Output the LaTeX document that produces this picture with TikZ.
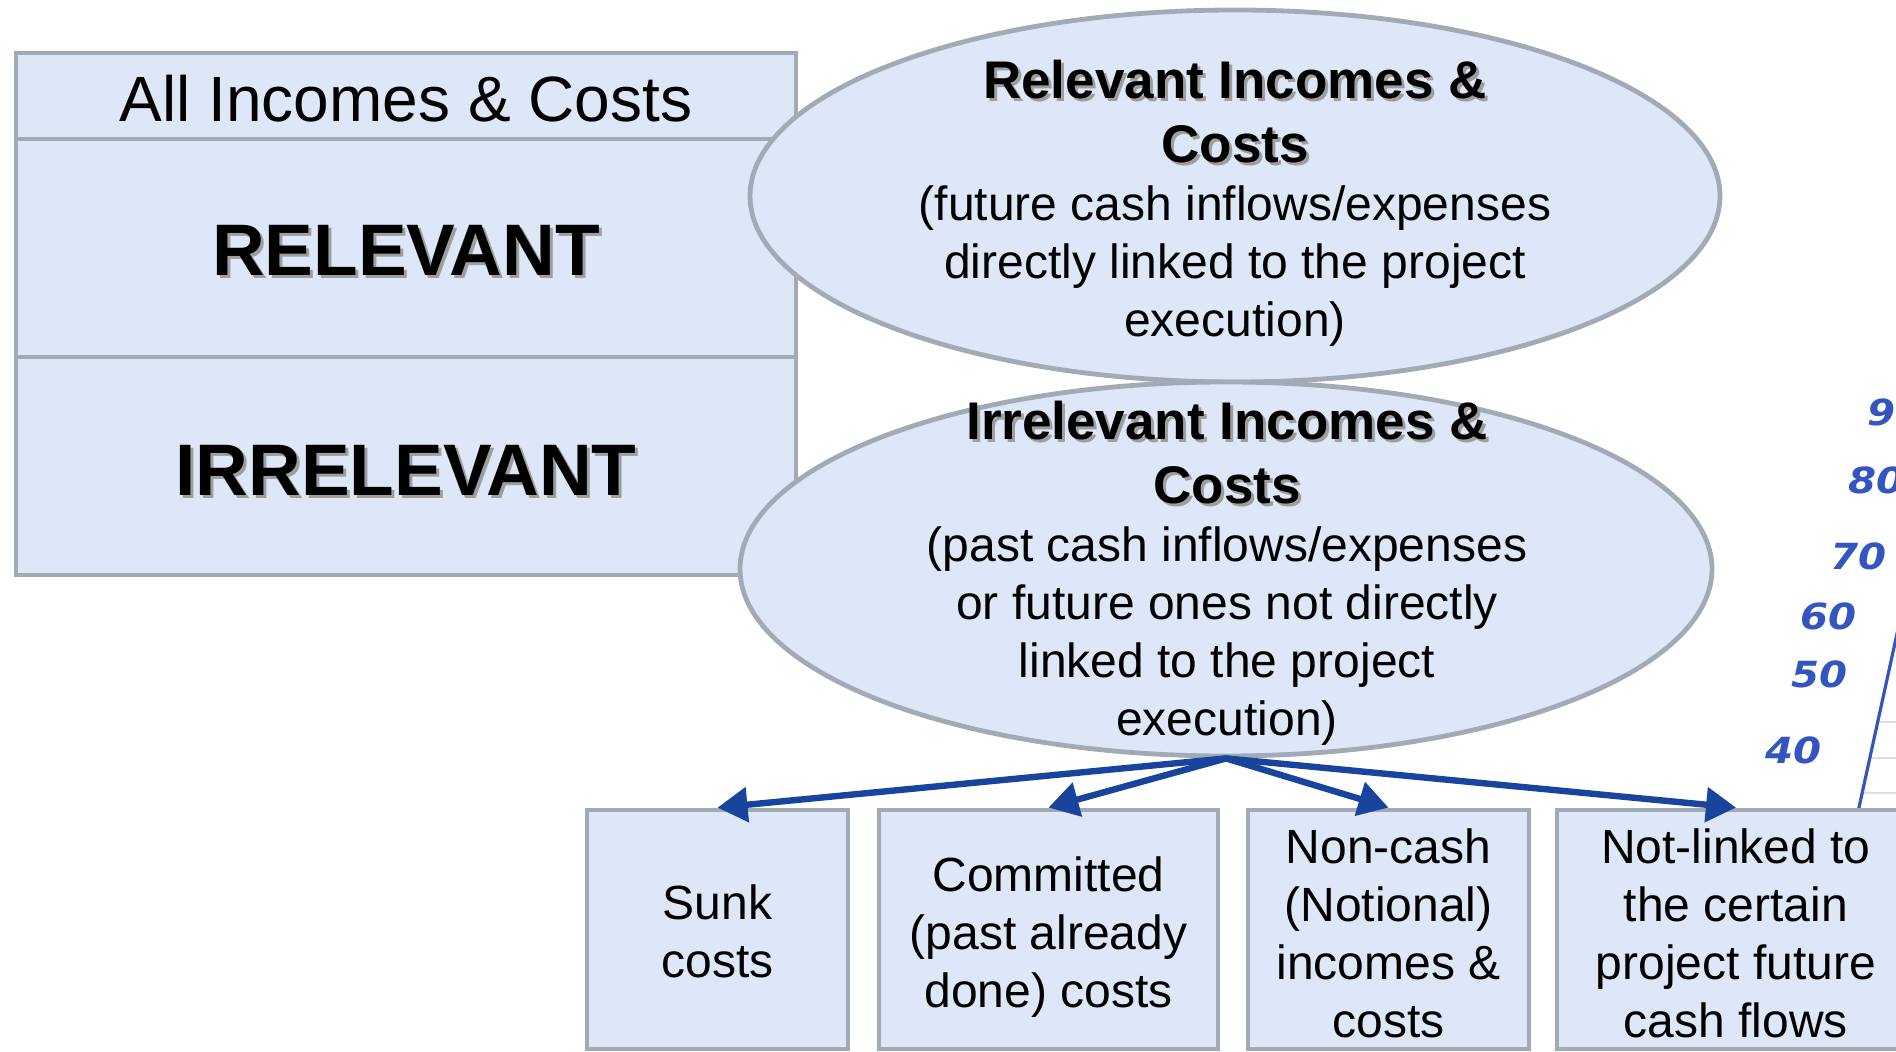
\documentclass[tikz,border=0pt]{standalone}
\usepackage{fontspec}
\setmainfont{Liberation Sans}
\newfontfamily\handfamily{DejaVu Sans}
\usetikzlibrary{shapes.geometric,arrows.meta}

\definecolor{panelfill}{RGB}{221,231,248}
\definecolor{panelline}{RGB}{162,170,182}
\definecolor{arrowblue}{RGB}{24,68,158}
\definecolor{inkblue}{RGB}{52,84,192}
\definecolor{gridgrey}{RGB}{222,222,226}

% bold text with a soft grey drop shadow
\newcommand\shtext[1]{\leavevmode\rlap{\kern1.5pt\raisebox{-1.5pt}{\textcolor{black!38}{#1}}}#1}
% lower content inside its panel without changing the panel
\newcommand\nudge[2]{\raisebox{-#1}[\height][\depth]{#2}}
% centred stack of lines at the body line pitch
\newcommand\lines[1]{\begin{tabular}{@{}c@{}}#1\end{tabular}}
\newcommand\titlefont{\bfseries\fontsize{26.5}{31.5}\selectfont}
\newcommand\bodyfont{\fontsize{24}{29}\selectfont}

\begin{document}
\begin{tikzpicture}[x=0.5pt,y=-0.5pt,
  panel/.style={draw=panelline, fill=panelfill, line width=2.4pt, inner sep=0pt},
  bigword/.style={font=\bfseries\fontsize{36.5}{44}\selectfont},
  blurb/.style={align=center, inner sep=0pt, font=\bodyfont},
  leaf/.style={panel, minimum height=119.5pt, font=\bodyfont},
  conn/.style={draw=arrowblue, line width=3.2pt, -{Triangle[length=15pt,width=17pt]}},
  hand/.style={font=\handfamily\bfseries\itshape\fontsize{18}{18}\selectfont,
               text=inkblue, inner sep=0pt, anchor=west, xscale=1.12}]
\useasboundingbox (0,0) rectangle (1896,1052);
\clip (0,0) rectangle (1896,1052);

% handwritten scale at the right edge
\draw[gridgrey, line width=0.6pt] (1877,722) -- (1900,722);
\draw[gridgrey, line width=0.6pt] (1869,758) -- (1900,758);
\draw[gridgrey, line width=0.6pt] (1862,793) -- (1900,793);
\draw[inkblue, line width=1.6pt] (1858,812) -- (1900,620);
\node[hand] (n90) at (1867,412) {9};
\node[hand] (n80) at (1848,480) {80};
\node[hand] (n70) at (1830,556) {70};
\node[hand] (n60) at (1800,616) {60};
\node[hand] (n50) at (1791,674) {50};
\node[hand] (n40) at (1765,750) {40};

% stacked classification panel
\node[panel, minimum width=390pt, minimum height=43pt,
      font=\fontsize{32}{38}\selectfont] (all) at (406,96) {\nudge{1.2pt}{All Incomes \& Costs}};
\node[panel, bigword, minimum width=390pt, minimum height=109pt] (relbox) at (406,248) {\nudge{2pt}{\shtext{RELEVANT}}};
\node[panel, bigword, minimum width=390pt, minimum height=109pt] (irrbox) at (406,466) {\nudge{3pt}{\shtext{IRRELEVANT}}};

% the two explanatory ellipses
\node[panel, ellipse, minimum width=485pt, minimum height=186pt] (rel) at (1235,196) {};
\node[panel, ellipse, minimum width=486pt, minimum height=187pt] (irr) at (1226,569) {};

\node[blurb] (reltext) at (1235,203.5) {%
  {\titlefont\shtext{Relevant Incomes \&}}\\[3pt]
  {\titlefont\shtext{Costs}}\\
  (future cash inflows/expenses\\
  directly linked to the project\\
  execution)};

\node[blurb] (irrtext) at (1227,573.5) {%
  {\titlefont\shtext{Irrelevant Incomes \&}}\\[3pt]
  {\titlefont\shtext{Costs}}\\
  (past cash inflows/expenses\\
  or future ones not directly\\
  linked to the project\\
  execution)};

% kinds of irrelevant items
\node[leaf, minimum width=130.5pt] (sunk) at (717.5,929.5)
  {\nudge{3.7pt}{\lines{Sunk\\costs}}};
\node[leaf, minimum width=169.5pt] (committed) at (1048.5,929.5)
  {\nudge{4pt}{\lines{Committed\\(past already\\done) costs}}};
\node[leaf, minimum width=140.5pt] (noncash) at (1388.5,929.5)
  {\nudge{4.6pt}{\lines{Non-cash\\(Notional)\\incomes \&\\costs}}};
\node[leaf, minimum width=179pt] (notlinked) at (1736,929.5)
  {\nudge{4.6pt}{\lines{Not-linked to\\the certain\\project future\\cash flows}}};

\draw[conn] (irr.south) -- (sunk.north);
\draw[conn] (irr.south) -- (committed.north);
\draw[conn] (irr.south) -- (noncash.north);
\draw[conn] (irr.south) -- (notlinked.north);
\end{tikzpicture}
\end{document}
